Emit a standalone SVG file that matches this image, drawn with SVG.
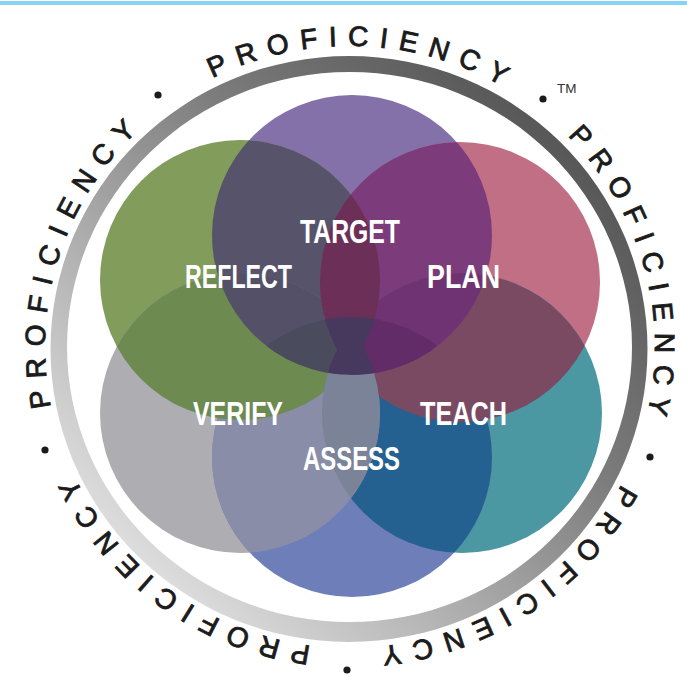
<svg xmlns="http://www.w3.org/2000/svg" xmlns:xlink="http://www.w3.org/1999/xlink" width="687" height="681" viewBox="0 0 687 681">
  <style>
    .ring-text { font-family: "Liberation Sans", Arial, sans-serif; font-size: 28px; letter-spacing: 11px; fill: #1b1b1b; stroke: #1b1b1b; stroke-width: 0.9px; text-anchor: middle; }
    .label { font-family: "Liberation Sans", Arial, sans-serif; font-weight: bold; font-size: 33px; fill: #ffffff; text-anchor: middle; }
    .tm { font-family: "Liberation Sans", Arial, sans-serif; font-size: 13.5px; fill: #333333; }
    .dot { fill: #1b1b1b; }
  </style>
  <defs>
    <linearGradient id="ringGrad" x1="0.85" y1="0.15" x2="0.15" y2="0.85">
      <stop offset="0" stop-color="#585858"/>
      <stop offset="0.35" stop-color="#7c7c7c"/>
      <stop offset="1" stop-color="#dcdcdc"/>
    </linearGradient>
    <!-- baseline of the lettering, clockwise from the bottom -->
    <path id="textRing" d="M 350,648 A 305 301 0 1 1 350,46 A 305 301 0 1 1 350,648"/>
    <circle id="cirP" cx="352" cy="235" r="140"/>
    <circle id="cirG" cx="240" cy="280" r="140"/>
    <circle id="cirK" cx="460" cy="282" r="140"/>
    <circle id="cirV" cx="240" cy="413" r="140"/>
    <circle id="cirT" cx="462" cy="413" r="140"/>
    <circle id="cirB" cx="352" cy="457" r="140"/>
    <clipPath id="clipP"><use xlink:href="#cirP"/></clipPath>
    <clipPath id="clipG"><use xlink:href="#cirG"/></clipPath>
    <clipPath id="clipK"><use xlink:href="#cirK"/></clipPath>
    <clipPath id="clipV"><use xlink:href="#cirV"/></clipPath>
    <clipPath id="clipT"><use xlink:href="#cirT"/></clipPath>
    <clipPath id="clipB"><use xlink:href="#cirB"/></clipPath>
  </defs>

  <rect width="687" height="681" fill="#ffffff"/>
  <rect x="0" y="1" width="687" height="4" fill="#88d3f3"/>

  <!-- outer gray ring -->
  <path d="M 50.5,349 A 298.5 293 0 1 1 647.5,349 A 298.5 293 0 1 1 50.5,349 Z M 67,347 A 282.5 275 0 1 0 632,347 A 282.5 275 0 1 0 67,347 Z" fill="url(#ringGrad)" fill-rule="evenodd"/>

  <!-- circular lettering -->
  <g id="ring-lettering">
    <text class="ring-text"><textPath xlink:href="#textRing" startOffset="195.4">PROFICIENCY</textPath></text>
    <text class="ring-text"><textPath xlink:href="#textRing" startOffset="571.4">PROFICIENCY</textPath></text>
    <text class="ring-text"><textPath xlink:href="#textRing" startOffset="965">PROFICIENCY</textPath></text>
    <text class="ring-text"><textPath xlink:href="#textRing" startOffset="1349">PROFICIENCY</textPath></text>
    <text class="ring-text"><textPath xlink:href="#textRing" startOffset="1726">PROFICIENCY</textPath></text>
    <circle class="dot" cx="158" cy="95" r="3.6"/>
    <circle class="dot" cx="543" cy="99" r="3.6"/>
    <circle class="dot" cx="650" cy="457" r="3.6"/>
    <circle class="dot" cx="347" cy="670" r="3.6"/>
    <circle class="dot" cx="45" cy="450" r="3.6"/>
    <text class="tm" x="557" y="93">TM</text>
  </g>

  <!-- the six circles -->
  <g id="target"><use xlink:href="#cirP" fill="#8571a9"/></g>
  <g id="reflect"><use xlink:href="#cirG" fill="#819c5b"/></g>
  <g id="plan"><use xlink:href="#cirK" fill="#c06f85"/></g>
  <g id="verify"><use xlink:href="#cirV" fill="#adadb2"/></g>
  <g id="teach"><use xlink:href="#cirT" fill="#4b97a2"/></g>
  <g id="assess"><use xlink:href="#cirB" fill="#6e7eb8"/></g>

  <!-- overlap shading -->
  <g id="overlaps">
    <!-- neighbouring pairs -->
    <use xlink:href="#cirP" fill="#57536b" clip-path="url(#clipG)"/>
    <use xlink:href="#cirP" fill="#7c3c7c" clip-path="url(#clipK)"/>
    <use xlink:href="#cirB" fill="#246190" clip-path="url(#clipT)"/>
    <use xlink:href="#cirB" fill="#898da8" clip-path="url(#clipV)"/>
    <use xlink:href="#cirK" fill="#7a4a63" clip-path="url(#clipT)"/>
    <use xlink:href="#cirG" fill="#6d8a50" clip-path="url(#clipV)"/>
    <!-- triple zones -->
    <g clip-path="url(#clipP)"><use xlink:href="#cirG" fill="#535068" clip-path="url(#clipV)"/></g>
    <g clip-path="url(#clipP)"><use xlink:href="#cirK" fill="#6f3373" clip-path="url(#clipT)"/></g>
    <!-- centre lenses -->
    <use xlink:href="#cirG" fill="#6c2f58" clip-path="url(#clipK)"/>
    <use xlink:href="#cirV" fill="#7a8398" clip-path="url(#clipT)"/>
    <!-- dark band where target and assess meet -->
    <g clip-path="url(#clipP)"><g clip-path="url(#clipB)"><use xlink:href="#cirG" fill="#4b4b5e"/></g></g>
    <g clip-path="url(#clipP)"><g clip-path="url(#clipB)"><use xlink:href="#cirK" fill="#622c68"/></g></g>
    <g clip-path="url(#clipP)"><g clip-path="url(#clipB)"><g clip-path="url(#clipG)"><use xlink:href="#cirK" fill="#47395e"/></g></g></g>
    <g clip-path="url(#clipP)"><g clip-path="url(#clipB)"><g clip-path="url(#clipV)"><use xlink:href="#cirT" fill="#47395e"/></g></g></g>
  </g>

  <!-- labels -->
  <g id="labels">
    <text class="label" x="350" y="243" textLength="100" lengthAdjust="spacingAndGlyphs">TARGET</text>
    <text class="label" x="238.5" y="288" textLength="107" lengthAdjust="spacingAndGlyphs">REFLECT</text>
    <text class="label" x="463.5" y="288" textLength="73" lengthAdjust="spacingAndGlyphs">PLAN</text>
    <text class="label" x="238" y="425" textLength="90" lengthAdjust="spacingAndGlyphs">VERIFY</text>
    <text class="label" x="463.5" y="425" textLength="87" lengthAdjust="spacingAndGlyphs">TEACH</text>
    <text class="label" x="351.5" y="470" textLength="97" lengthAdjust="spacingAndGlyphs">ASSESS</text>
  </g>
</svg>
